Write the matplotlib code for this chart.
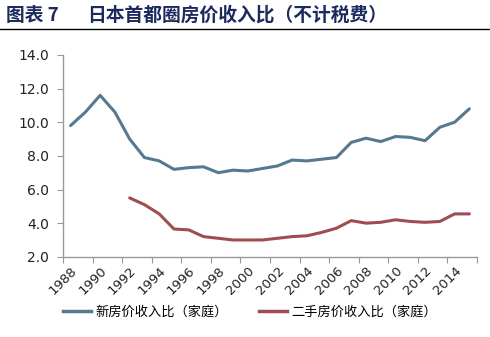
import numpy as np
import matplotlib
matplotlib.use('Agg')
import matplotlib.pyplot as plt
from matplotlib.lines import Line2D

plt.rcParams['font.family'] = ['Noto Sans CJK SC', 'DejaVu Sans']

# data
years = list(range(1988, 2016))
new_ratio = [9.8, 10.6, 11.6, 10.6, 9.0, 7.9, 7.7, 7.2, 7.3, 7.35, 7.0, 7.15, 7.1, 7.25,
             7.4, 7.75, 7.7, 7.8, 7.9, 8.8, 9.05, 8.85, 9.15, 9.1, 8.9, 9.7, 10.0, 10.8]
used_years = list(range(1992, 2016))
used_ratio = [5.5, 5.1, 4.55, 3.65, 3.6, 3.2, 3.1, 3.0, 3.0, 3.0, 3.1, 3.2, 3.25, 3.45,
              3.7, 4.15, 4.0, 4.05, 4.2, 4.1, 4.05, 4.1, 4.55, 4.55]
title_head = '图表 7'
title_body = '日本首都圈房价收入比（不计税费）'
labels = ['新房价收入比（家庭）', '二手房价收入比（家庭）']

blue = '#56798f'
red = '#a04d52'

fig = plt.figure(figsize=(4.9, 3.37), dpi=100)
ax = fig.add_axes([0.129, 0.238, 0.844, 0.599])

xn = np.arange(len(years))
xu = np.array([years.index(y) for y in used_years])
ax.plot(xn, new_ratio, color=blue, lw=2.2, solid_capstyle='round', solid_joinstyle='round')
ax.plot(xu, used_ratio, color=red, lw=2.2, solid_capstyle='round', solid_joinstyle='round')

ax.set_xlim(-0.5, len(years) - 0.5)
ax.set_ylim(2, 14)
ax.set_yticks(np.arange(2, 14.1, 2))
ax.set_yticklabels(['%.1f' % v for v in np.arange(2, 14.1, 2)], fontsize=10,
                   family='DejaVu Sans', color='#222222')

# tick marks at category boundaries, labels at category centres
ax.set_xticks(np.arange(-0.5, len(years), 2))
ax.set_xticklabels([])
ax.set_xticks(xn[::2], minor=True)
ax.set_xticklabels([str(y) for y in years[::2]], minor=True, rotation=45,
                   ha='right', va='top', fontsize=9.5, family='DejaVu Sans',
                   color='#222222', rotation_mode='anchor')
ax.tick_params(axis='x', which='minor', length=0, pad=5)
ax.tick_params(axis='x', which='major', length=4, color='#999999')
ax.tick_params(axis='y', length=4, color='#999999', pad=6)

for s in ['top', 'right']:
    ax.spines[s].set_visible(False)
for s in ['left', 'bottom']:
    ax.spines[s].set_color('#999999')
    ax.spines[s].set_linewidth(1)

handles = [Line2D([], [], color=blue, lw=2.5), Line2D([], [], color=red, lw=2.5)]
fig.legend(handles, labels, loc='center left', bbox_to_anchor=(0.105, 0.074),
           ncol=2, frameon=False, fontsize=9.5, handlelength=2.1, handletextpad=0.3,
           columnspacing=2.4)

fig.text(0.012, 0.955, title_head, fontsize=13.5, fontweight='bold', color='#1c2a5e',
         va='center', ha='left')
fig.text(0.178, 0.955, title_body, fontsize=13.5, fontweight='bold', color='#1c2a5e',
         va='center', ha='left')
fig.add_artist(Line2D([0, 1], [0.913, 0.913], color='black', lw=1,
                      transform=fig.transFigure))

plt.savefig('out.png', dpi=100)
